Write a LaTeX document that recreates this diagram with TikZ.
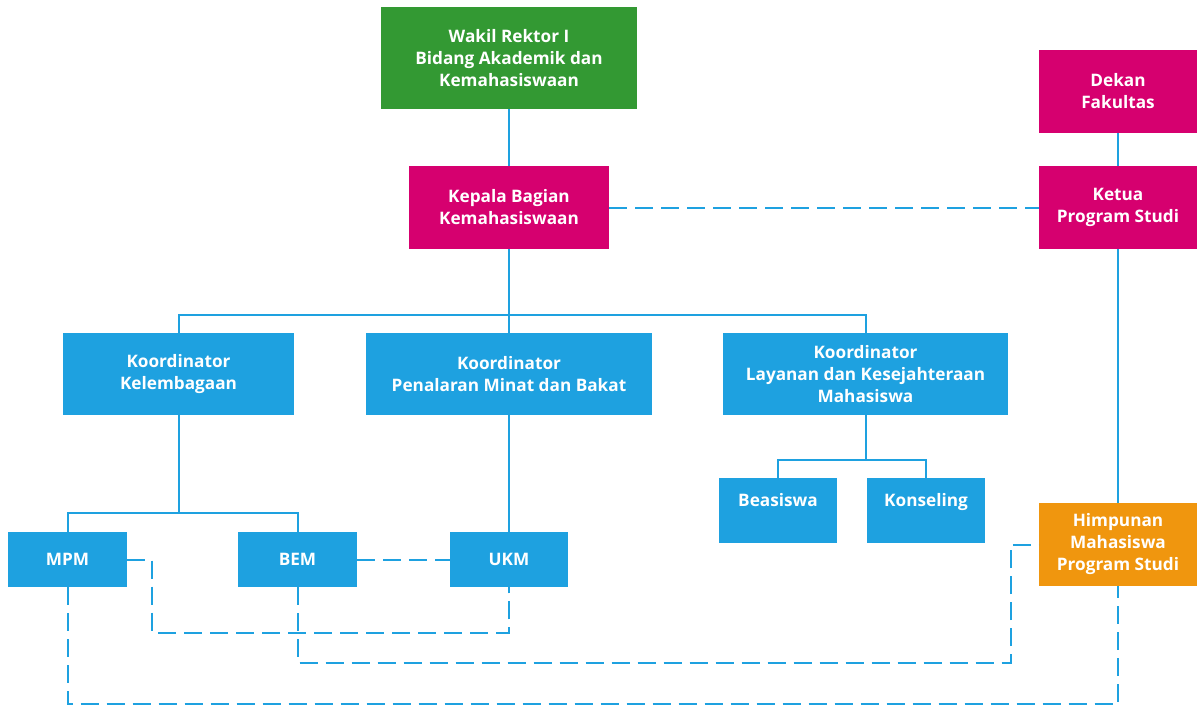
\documentclass[tikz,border=0pt]{standalone}
\usepackage{fontspec}
\setmainfont{Open Sans}
\definecolor{cgreen}{RGB}{51,153,51}
\definecolor{cmag}{RGB}{214,0,111}
\definecolor{cblue}{RGB}{30,161,224}
\definecolor{corange}{RGB}{240,150,14}
\tikzset{
  box/.style={rectangle, inner sep=0pt, text=white, align=center,
    font=\fontsize{17.2}{22}\selectfont\bfseries},
  gbox/.style={box, fill=cgreen},
  mbox/.style={box, fill=cmag},
  bbox/.style={box, fill=cblue},
  obox/.style={box, fill=corange},
  ln/.style={draw=cblue, line width=2pt},
  dsh/.style={draw=cblue, line width=2pt, dash pattern=on 18pt off 8pt},
}
\begin{document}
\begin{tikzpicture}[x=1pt,y=-1pt]
\path[use as bounding box, fill=white] (0,0) rectangle (1200,706);
% boxes
\node[gbox, minimum width=256pt, minimum height=102pt] (wakil) at (509,58) {Wakil Rektor I\\Bidang Akademik dan\\Kemahasiswaan};
\node[mbox, minimum width=200pt, minimum height=83pt] (kepala) at (509,207.5) {Kepala Bagian\\Kemahasiswaan};
\node[mbox, minimum width=158pt, minimum height=83pt] (dekan) at (1118,91.5) {Dekan\\Fakultas};
\node[mbox, minimum width=158pt, minimum height=83pt] (ketua) at (1118,207.5) {Ketua\\Program Studi};
\node[bbox, minimum width=231pt, minimum height=82pt] (k1) at (178.5,374) {Koordinator\\Kelembagaan};
\node[bbox, minimum width=286pt, minimum height=82pt] (k2) at (509,374) {Koordinator\\Penalaran Minat dan Bakat};
\node[bbox, minimum width=285pt, minimum height=82pt] (k3) at (865.5,374) {Koordinator\\Layanan dan Kesejahteraan\\Mahasiswa};
\node[bbox, minimum width=118pt, minimum height=65pt] (beas) at (778,510.5) {Beasiswa\\~};
\node[bbox, minimum width=118pt, minimum height=65pt] (kons) at (926,510.5) {Konseling\\~};
\node[bbox, minimum width=119pt, minimum height=55pt] (mpm) at (67.5,559.5) {MPM};
\node[bbox, minimum width=119pt, minimum height=55pt] (bem) at (297.5,559.5) {BEM};
\node[bbox, minimum width=118pt, minimum height=55pt] (ukm) at (509,559.5) {UKM};
\node[obox, minimum width=158pt, minimum height=83pt] (himp) at (1118,544.5) {Himpunan\\Mahasiswa\\Program Studi};
% solid tree lines
\draw[ln] (wakil) -- (kepala);
\draw[ln] (dekan) -- (ketua);
\draw[ln] (ketua) -- (himp);
\draw[ln] (kepala.south) -- ++(0,66) coordinate (j1);
\draw[ln] (k1.north) |- (j1) -| (k3.north);
\draw[ln] (j1) -- (k2.north);
\draw[ln] (k1.south) -- ++(0,98) coordinate (j2);
\draw[ln] (mpm.north) |- (j2) -| (bem.north);
\draw[ln] (k2) -- (ukm);
\draw[ln] (k3.south) -- ++(0,45) coordinate (j3);
\draw[ln] (beas.north) |- (j3) -| (kons.north);
% dashed links
\draw[dsh] (kepala.east) -- (ketua.west);
\draw[dsh] (bem.east) -- (ukm.west);
\draw[dsh] (mpm.east) -| ++(25,73) -| (ukm.south);
\draw[dsh] (bem.south) |- ++(713,76) |- (himp.west);
\draw[dsh] (mpm.south) -- ++(0,117) -| (himp.south);
\end{tikzpicture}
\end{document}
